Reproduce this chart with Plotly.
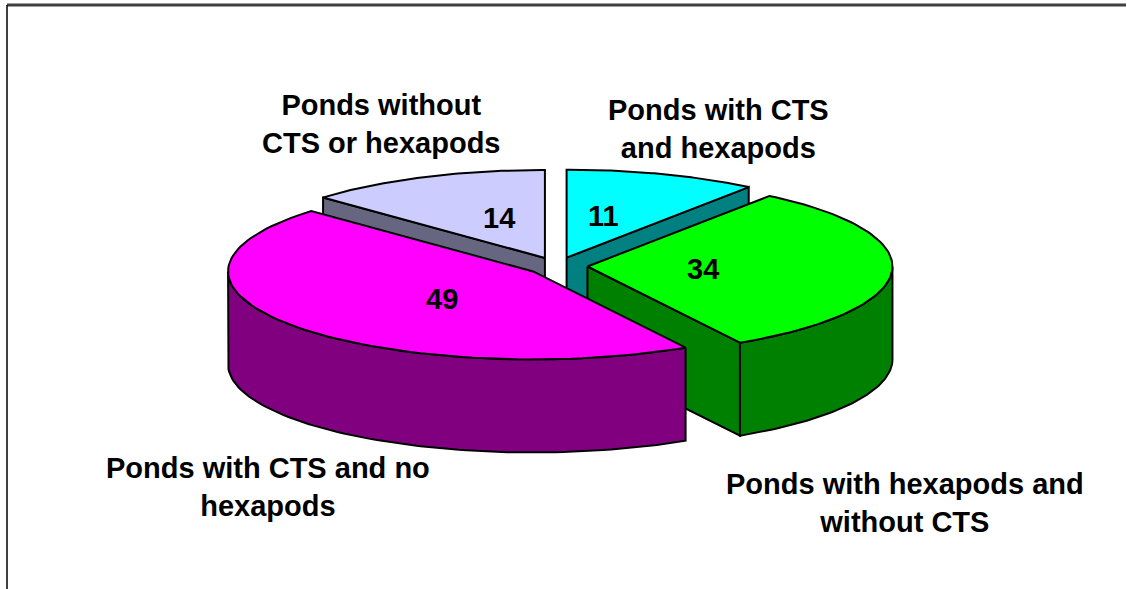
import numpy as np
import plotly.graph_objects as go

# ---- data ----
categories = ["Ponds with CTS and hexapods",
              "Ponds with hexapods and without CTS",
              "Ponds with CTS and no hexapods",
              "Ponds without CTS or hexapods"]
values = [11, 34, 49, 14]
label_text = ["Ponds with CTS<br>and hexapods",
              "Ponds with hexapods and<br>without CTS",
              "Ponds with CTS and no<br>hexapods",
              "Ponds without<br>CTS or hexapods"]

# ---- style ----
top_colors = ["#00FFFF", "#00FF00", "#FF00FF", "#CCCCFF"]
side_colors = ["#008080", "#008000", "#800080", "#666680"]
label_pos = [(718, 129), (905, 503), (268, 487), (381, 124)]
W, H = 1127, 589
CX, CY = 557, 266
RX, RY = 305, 88
DEPTH = 93
EXPLODE = 0.10
FONT = "Liberation Sans, Arial, sans-serif"

total = sum(values)
starts, ends = [], []
acc = 0.0
for v in values:
    starts.append(acc)
    acc += v / total * 360.0
    ends.append(acc)


def pt(t_deg, ox, oy, dz=0.0):
    t = np.radians(t_deg)
    return CX + ox + RX * np.sin(t), CY + oy - RY * np.cos(t) + dz


def arc(a, b, ox, oy, dz=0.0, n=80):
    ts = np.linspace(a, b, n)
    xs, ys = pt(ts, ox, oy, dz)
    return list(xs), list(ys)


fig = go.Figure()


def poly(xs, ys, color):
    fig.add_trace(go.Scatter(
        x=xs + [xs[0]], y=ys + [ys[0]], mode="lines", fill="toself",
        fillcolor=color, line=dict(color="black", width=2),
        hoverinfo="skip", showlegend=False))


order = [0, 3, 1, 2]
for i in order:
    a, b = starts[i], ends[i]
    m = np.radians((a + b) / 2)
    ox = EXPLODE * RX * np.sin(m)
    oy = -EXPLODE * RY * np.cos(m)
    apx, apy = CX + ox, CY + oy
    # radial walls
    if np.sin(np.radians(b)) > 1e-3:
        rx_, ry_ = pt(b, ox, oy)
        poly([apx, rx_, rx_, apx], [apy, ry_, ry_ + DEPTH, apy + DEPTH], side_colors[i])
    if np.sin(np.radians(a)) < -1e-3:
        rx_, ry_ = pt(a, ox, oy)
        poly([apx, rx_, rx_, apx], [apy, ry_, ry_ + DEPTH, apy + DEPTH], side_colors[i])
    # outer wall (front half only)
    lo, hi = max(a, 90.0), min(b, 270.0)
    if hi > lo:
        tx, ty = arc(lo, hi, ox, oy)
        bx, by = arc(hi, lo, ox, oy, DEPTH)
        poly(tx + bx, ty + by, side_colors[i])
    # top face
    tx, ty = arc(a, b, ox, oy)
    poly([apx] + tx, [apy] + ty, top_colors[i])

# value labels
for i in range(len(values)):
    m = np.radians((starts[i] + ends[i]) / 2)
    ox = EXPLODE * RX * np.sin(m)
    oy = -EXPLODE * RY * np.cos(m)
    lx = CX + ox + 0.38 * RX * np.sin(m)
    ly = CY + oy - 0.5 * RY * np.cos(m)
    fig.add_annotation(x=lx, y=ly, text=f"<b>{values[i]}</b>", showarrow=False,
                       font=dict(family=FONT, size=29, color="black"),
                       xref="x", yref="y")

# category labels
for i in range(len(values)):
    fig.add_annotation(x=label_pos[i][0], y=label_pos[i][1],
                       text=f"<b>{label_text[i]}</b>", showarrow=False,
                       font=dict(family=FONT, size=29, color="black"),
                       xref="x", yref="y", align="center")

# chart frame
fig.add_shape(type="line", x0=7, x1=1126, y0=5, y1=5, xref="x", yref="y",
              line=dict(color="#404040", width=3))
fig.add_shape(type="line", x0=7, x1=7, y0=5, y1=589, xref="x", yref="y",
              line=dict(color="black", width=1.5))

fig.update_layout(
    width=W, height=H, margin=dict(l=0, r=0, t=0, b=0, pad=0),
    paper_bgcolor="white", plot_bgcolor="white",
    xaxis=dict(range=[0, W], visible=False, fixedrange=True),
    yaxis=dict(range=[H, 0], visible=False, fixedrange=True),
    showlegend=False,
)
fig.write_html("out.html", config={"displayModeBar": False},
               post_script="document.body.style.margin='0';document.body.style.overflow='hidden';")
